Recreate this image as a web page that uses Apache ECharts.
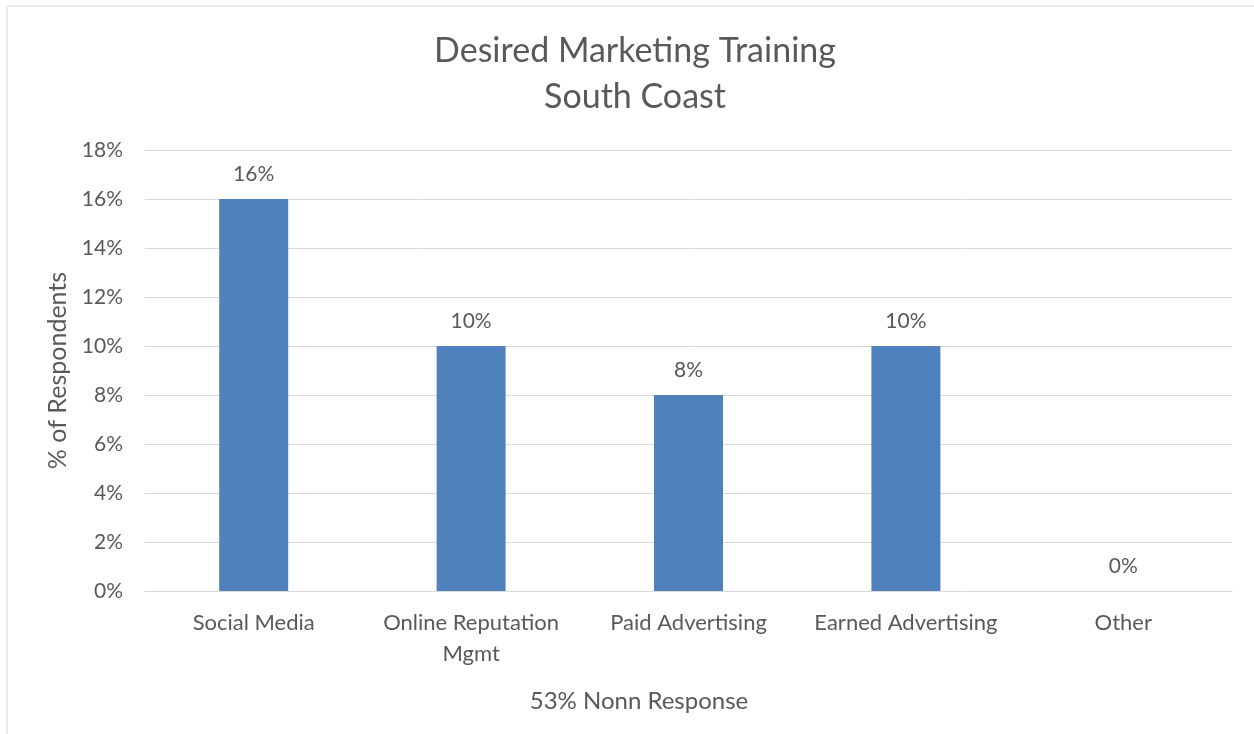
<!DOCTYPE html>
<html>
<head>
<meta charset="utf-8">
<script src="https://cdn.jsdelivr.net/npm/echarts@6/dist/echarts.min.js"></script>
<style>
    html, body {margin: 0; padding: 0; background: #fff;}
    #chart {width: 1254px; height: 734px;}
</style>
</head>
<body>
<div id="chart"></div>
<script>
// chart data
var categories = ['Social Media', 'Online Reputation\nMgmt', 'Paid Advertising', 'Earned Advertising', 'Other'];
var percentValues = [16, 10, 8, 10, 0];
var yTicks = {min: 0, max: 18, interval: 2};

var textColor = '#595959';
var fontName = 'Lato, "Open Sans", sans-serif';

var chart = echarts.init(document.getElementById('chart'));
chart.setOption({
    backgroundColor: '#fff',
    animation: false,
    textStyle: {fontFamily: fontName, color: textColor},
    title: [{
        text: 'Desired Marketing Training\nSouth Coast',
        left: 630,
        top: 23,
        textAlign: 'center',
        textStyle: {fontFamily: fontName, fontSize: 34, fontWeight: 'normal', color: textColor, lineHeight: 46}
    }, {
        text: '53% Nonn Response',
        left: 634,
        top: 684,
        textAlign: 'center',
        textStyle: {fontFamily: fontName, fontSize: 24, fontWeight: 'normal', color: textColor}
    }],
    graphic: [{
        type: 'rect',
        shape: {x: 7, y: 6, width: 1400, height: 900},
        style: {fill: 'none', stroke: '#d9d9d9', lineWidth: 1},
        silent: true
    }],
    grid: {left: 145, right: 22, top: 150, bottom: 143},
    xAxis: {
        type: 'category',
        data: categories,
        axisLine: {lineStyle: {color: '#d9d9d9', width: 1}},
        axisTick: {show: false},
        axisLabel: {color: textColor, fontSize: 22, margin: 16, lineHeight: 31, interval: 0, fontFamily: fontName}
    },
    yAxis: {
        type: 'value',
        min: yTicks.min,
        max: yTicks.max,
        interval: yTicks.interval,
        name: '% of Respondents',
        nameLocation: 'middle',
        nameGap: 74,
        nameRotate: 90,
        nameTextStyle: {color: textColor, fontSize: 25, fontFamily: fontName},
        axisLine: {show: false},
        axisTick: {show: false},
        splitLine: {lineStyle: {color: '#d9d9d9', width: 1}},
        axisLabel: {formatter: '{value}%', color: textColor, fontSize: 21, margin: 22, fontFamily: fontName}
    },
    series: [{
        type: 'bar',
        data: percentValues,
        barWidth: 69,
        itemStyle: {color: '#4f81bd'},
        label: {
            show: true,
            position: 'top',
            distance: 14,
            formatter: '{c}%',
            color: textColor,
            fontSize: 21,
            fontFamily: fontName
        }
    }]
});
</script>
</body>
</html>
